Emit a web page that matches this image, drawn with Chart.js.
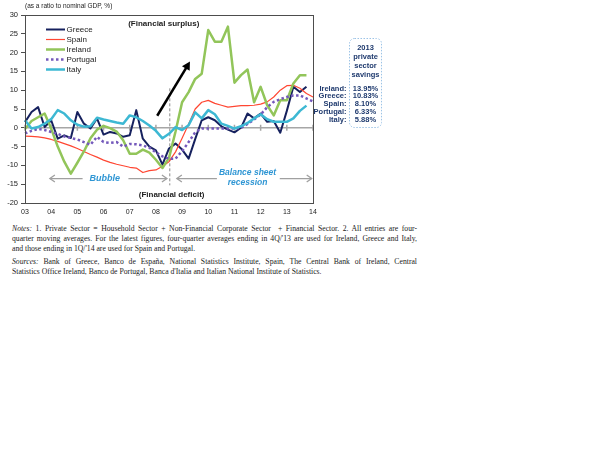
<!DOCTYPE html>
<html>
<head>
<meta charset="utf-8">
<script src="https://cdn.jsdelivr.net/npm/chart.js@4.4.0/dist/chart.umd.min.js"></script>
<style>
  body { margin: 0; background: #fff; width: 614px; height: 460px; position: relative; overflow: hidden; }
  #wrap { position: absolute; left: 0; top: 0; width: 400px; height: 220px; }
  #notes { position: absolute; left: 12px; top: 224px; width: 405px; font-family: 'Liberation Serif', serif; font-size: 7.7px; line-height: 10px; color: #222; }
  #notes .l { text-align: justify; text-align-last: justify; white-space: nowrap; }
  #notes .e { text-align: left; }
  #notes .gap { height: 3px; }
</style>
</head>
<body>
<div id="wrap"><canvas id="sectorChart"></canvas></div>
<div id="notes">
  <div class="l"><i>Notes:</i> 1. Private Sector = Household Sector + Non-Financial Corporate Sector &nbsp;+ Financial Sector. 2. All entries are four-</div>
  <div class="l">quarter moving averages. For the latest figures, four-quarter averages ending in 4Q/'13 are used for Ireland, Greece and Italy,</div>
  <div class="e">and those ending in 1Q/'14 are used for Spain and Portugal.</div>
  <div class="gap"></div>
  <div class="l"><i>Sources:</i> Bank of Greece, Banco de España, National Statistics Institute, Spain, The Central Bank of Ireland, Central</div>
  <div class="e">Statistics Office Ireland, Banco de Portugal, Banca d'Italia and Italian National Institute of Statistics.</div>
</div>
<script>
// quarterly categories, 2003Q1 .. 2014Q1
const quarters = [
  '03Q1','03Q2','03Q3','03Q4','04Q1','04Q2','04Q3','04Q4','05Q1','05Q2','05Q3','05Q4',
  '06Q1','06Q2','06Q3','06Q4','07Q1','07Q2','07Q3','07Q4','08Q1','08Q2','08Q3','08Q4',
  '09Q1','09Q2','09Q3','09Q4','10Q1','10Q2','10Q3','10Q4','11Q1','11Q2','11Q3','11Q4',
  '12Q1','12Q2','12Q3','12Q4','13Q1','13Q2','13Q3','13Q4','14Q1'
];

// private sector financial surplus/deficit (% of GDP)
const greece = [1.5, 4.2, 5.5, 0.2, 2.0, -2.9, -2.0, -2.7, 4.2, 1.1, -0.2, 2.5, -1.8, -1.1, -1.5, -2.4,
  -2.0, 4.7, -2.9, -5.0, -6.0, -9.8, -5.5, -4.2, -5.8, -8.2, -3.0, 2.0, 2.8, 2.0, 0.4, -0.5,
  -1.2, 0.0, 3.8, 2.5, 3.8, 1.6, 1.8, -1.3, 4.5, 10.9, 9.5, 10.9];
const spain = [-2.2, -2.3, -2.4, -2.7, -3.1, -3.6, -4.2, -4.8, -5.5, -6.3, -7.1, -7.8, -8.6, -9.2, -9.7, -10.1,
  -10.5, -10.7, -11.9, -11.4, -11.2, -10.2, -9.0, -6.4, -2.8, 1.0, 5.0, 6.8, 7.3, 6.5, 6.0, 5.5,
  5.7, 5.9, 5.9, 6.0, 6.3, 6.9, 8.2, 10.0, 11.2, 11.3, 10.5, 9.1, 8.2];
const ireland = [-0.3, 1.8, 2.8, 3.8, -0.2, -5.0, -9.0, -12.2, -9.3, -6.3, -2.8, -0.5, 0.5, -0.1, -1.0, -3.3,
  -6.9, -6.9, -5.8, -6.6, -8.5, -10.7, -8.0, -1.0, 6.8, 9.5, 13.0, 14.4, 26.0, 22.9, 22.9, 26.9,
  12.0, 14.0, 15.5, 6.8, 10.9, 6.0, 3.3, 7.3, 7.3, 11.8, 14.0, 14.0];
const portugal = [-1.5, -0.8, -0.3, -0.6, -1.1, -1.6, -2.3, -2.7, -3.1, -3.8, -4.5, -2.4, -3.8, -4.0, -3.8, -5.0,
  -4.3, -4.4, -4.7, -5.3, -6.5, -7.6, -8.2, -8.2, -6.2, -3.8, -1.2, -0.2, -0.2, -0.2, -0.2, -0.2,
  -0.2, 0.0, 1.0, 2.2, 3.5, 5.5, 6.9, 7.6, 8.2, 8.6, 8.6, 7.8, 7.0];
const italy = [2.0, -0.2, 0.2, 1.1, 2.3, 4.7, 3.8, 2.0, 0.8, 0.3, 0.4, 2.7, 2.2, 1.8, 1.4, 1.1,
  3.3, 2.8, 1.8, 0.6, -0.8, -2.8, -1.6, 0.2, -0.6, 0.7, 4.1, 2.5, 4.7, 3.6, 1.1, 0.5,
  -0.2, 0.4, 1.3, 2.5, 3.6, 2.3, 1.6, 1.6, 1.6, 2.5, 4.5, 5.9];

// 2013 private sector savings box
const savingsCountries = ['Ireland:', 'Greece:', 'Spain:', 'Portugal:', 'Italy:'];
const savingsValues = [13.95, 10.83, 8.10, 6.33, 5.88];

const yTicks = { min: -20, max: 30, step: 5 };
const fontFam = "'Liberation Sans', Arial, sans-serif";
const txtBlue = '#2f96d4';
const boxNavy = '#1f3a6e';

// x position for a fractional year, using the category scale
function xAt(chart, yr) {
  const x = chart.scales.x;
  const a = x.getPixelForValue(0), b = x.getPixelForValue(quarters.length - 1);
  return a + (yr - 2003) / 11 * (b - a);
}

function arrow(ctx, x1, y1, x2, y2, opts) {
  const ang = Math.atan2(y2 - y1, x2 - x1);
  const hl = opts.head, hw = opts.headW;
  ctx.save();
  ctx.strokeStyle = opts.color;
  ctx.fillStyle = opts.color;
  ctx.lineWidth = opts.width;
  ctx.beginPath();
  ctx.moveTo(x1, y1);
  if (opts.filled) ctx.lineTo(x2 - Math.cos(ang) * hl * 0.8, y2 - Math.sin(ang) * hl * 0.8);
  else ctx.lineTo(x2, y2);
  ctx.stroke();
  const bx = x2 - Math.cos(ang) * hl, by = y2 - Math.sin(ang) * hl;
  const px = -Math.sin(ang) * hw, py = Math.cos(ang) * hw;
  ctx.beginPath();
  ctx.moveTo(bx + px, by + py);
  ctx.lineTo(x2, y2);
  ctx.lineTo(bx - px, by - py);
  if (opts.filled) { ctx.closePath(); ctx.fill(); }
  else { ctx.lineWidth = opts.width; ctx.stroke(); }
  ctx.restore();
}

const decorations = {
  id: 'decorations',
  beforeDatasetsDraw(chart) {
    const { ctx, chartArea: area, scales: { x, y } } = chart;
    const y0 = y.getPixelForValue(0);
    ctx.save();
    ctx.strokeStyle = '#a6a6a6';
    ctx.lineWidth = 1.5;
    ctx.beginPath();
    ctx.moveTo(area.left, y0);
    ctx.lineTo(area.right, y0);
    quarters.forEach((q, i) => {
      if (q.endsWith('Q1')) {
        const xp = x.getPixelForValue(i);
        ctx.moveTo(xp, y0 - 3);
        ctx.lineTo(xp, y0 + 3);
      }
    });
    ctx.stroke();

    // crisis divider
    const xd = xAt(chart, 2008.53);
    ctx.strokeStyle = '#8c8c8c';
    ctx.lineWidth = 1;
    ctx.setLineDash([3, 2]);
    ctx.beginPath();
    ctx.moveTo(xd, y.getPixelForValue(10.5));
    ctx.lineTo(xd, y.getPixelForValue(-15.3));
    ctx.stroke();
    ctx.restore();
  },
  afterDatasetsDraw(chart) {
    const { ctx, chartArea: area, scales: { y } } = chart;
    const X = yr => xAt(chart, yr);
    const Y = v => y.getPixelForValue(v);

    // black arrow towards surplus
    arrow(ctx, X(2008.05), Y(3.2), X(2009.3), Y(17.6), { color: '#000', width: 2.5, head: 8, headW: 4.5, filled: true });

    // gray arrows
    const grey = { color: '#a0a0a0', width: 1.3, head: 5, headW: 3.5, filled: false };
    const ya = Y(-13.5);
    arrow(ctx, X(2005.2), ya, X(2003.95), ya, grey);
    arrow(ctx, X(2006.95), ya, X(2008.42), ya, grey);
    arrow(ctx, X(2010.33), ya, X(2008.8), ya, grey);
    arrow(ctx, X(2012.73), ya, X(2013.95), ya, grey);

    ctx.save();
    ctx.textAlign = 'center';
    ctx.textBaseline = 'middle';
    ctx.fillStyle = txtBlue;
    ctx.font = 'italic bold 9px ' + fontFam;
    ctx.fillText('Bubble', X(2006.05), ya);
    ctx.font = 'italic bold 8.5px ' + fontFam;
    ctx.fillText('Balance sheet', X(2011.5), Y(-11.9));
    ctx.fillText('recession', X(2011.5), Y(-14.5));

    ctx.fillStyle = '#222';
    ctx.font = 'bold 8px ' + fontFam;
    ctx.fillText('(Financial surplus)', X(2008.3), Y(27.6));
    ctx.fillText('(Financial deficit)', X(2008.6), Y(-17.7));
    ctx.restore();
  },
  afterDraw(chart) {
    const { ctx, chartArea: area } = chart;
    ctx.save();
    // plot frame
    ctx.strokeStyle = '#4d4d4d';
    ctx.lineWidth = 1;
    ctx.strokeRect(Math.round(area.left) + 0.5, Math.round(area.top) + 0.5,
      Math.round(area.right - area.left), Math.round(area.bottom - area.top));

    // unit note
    ctx.fillStyle = '#222';
    ctx.font = '6.5px ' + fontFam;
    ctx.textBaseline = 'middle';
    ctx.textAlign = 'left';
    ctx.fillText('(as a ratio to nominal GDP, %)', area.left, 6.5);

    // legend
    ctx.font = '8px ' + fontFam;
    chart.data.datasets.forEach((ds, k) => {
      const ly = 29.5 + k * 10;
      ctx.strokeStyle = ds.borderColor;
      ctx.lineWidth = ds.borderWidth;
      ctx.setLineDash(ds.borderDash || []);
      ctx.beginPath();
      ctx.moveTo(46, ly);
      ctx.lineTo(65, ly);
      ctx.stroke();
      ctx.setLineDash([]);
      ctx.fillText(ds.label, 66.5, ly + 0.5);
    });

    // savings box
    const bx = 349.5, by = 38.5, bw = 32, bh = 89;
    ctx.strokeStyle = '#9cc3e6';
    ctx.lineWidth = 1;
    ctx.setLineDash([1.5, 1.5]);
    ctx.beginPath();
    ctx.roundRect(bx, by, bw, bh, 5);
    ctx.stroke();
    ctx.setLineDash([]);
    ctx.fillStyle = boxNavy;
    ctx.font = 'bold 7.5px ' + fontFam;
    ctx.textAlign = 'center';
    ['2013', 'private', 'sector', 'savings'].forEach((t, i) => ctx.fillText(t, bx + bw / 2, 47.5 + i * 9));
    savingsCountries.forEach((c, i) => {
      const ty = 88.5 + i * 7.8;
      ctx.textAlign = 'right';
      ctx.fillText(c, 346.5, ty);
      ctx.textAlign = 'center';
      ctx.fillText(savingsValues[i].toFixed(2) + '%', bx + bw / 2, ty);
    });
    ctx.restore();
  }
};

const ctx = document.getElementById('sectorChart').getContext('2d');
const sectorChart = new Chart(ctx, {
  type: 'line',
  data: {
    labels: quarters,
    datasets: [
      { label: 'Greece', data: greece, borderColor: '#16215e', borderWidth: 2, order: 4 },
      { label: 'Spain', data: spain, borderColor: '#ff4632', borderWidth: 1.2, order: 3 },
      { label: 'Ireland', data: ireland, borderColor: '#92c55a', borderWidth: 2.5, order: 2 },
      { label: 'Portugal', data: portugal, borderColor: '#7459bb', borderWidth: 2.5, borderDash: [2.5, 2.5], order: 1 },
      { label: 'Italy', data: italy, borderColor: '#3db8d3', borderWidth: 2.5, order: 0 }
    ]
  },
  options: {
    responsive: true,
    maintainAspectRatio: false,
    animation: false,
    elements: {
      point: { radius: 0 },
      line: { tension: 0, borderJoinStyle: 'round', fill: false }
    },
    layout: { padding: { top: 15, right: 87, left: 0, bottom: 0 } },
    scales: {
      x: {
        type: 'category',
        offset: false,
        afterFit: s => { s.height = 17; },
        grid: { display: false, drawTicks: false },
        border: { display: false },
        ticks: {
          autoSkip: false,
          maxRotation: 0,
          padding: 5,
          color: '#222',
          font: { family: fontFam, size: 7 },
          callback: (val, i) => quarters[i].endsWith('Q1') ? quarters[i].slice(0, 2) : ''
        }
      },
      y: {
        min: yTicks.min,
        max: yTicks.max,
        afterFit: s => { s.width = 25; },
        grid: { drawOnChartArea: false, tickLength: 4, color: '#4d4d4d' },
        border: { display: false },
        ticks: {
          stepSize: yTicks.step,
          padding: 3,
          color: '#222',
          font: { family: fontFam, size: 7.5 }
        }
      }
    },
    plugins: {
      legend: { display: false },
      tooltip: { enabled: false }
    }
  },
  plugins: [decorations]
});
</script>
</body>
</html>
